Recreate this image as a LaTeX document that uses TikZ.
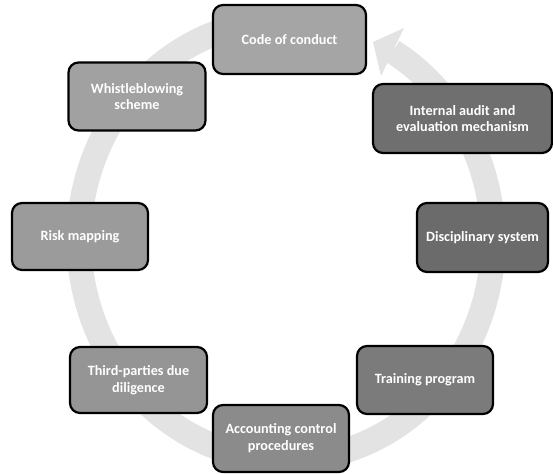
\documentclass[tikz,border=0pt]{standalone}
\usepackage{fontspec}
\setmainfont{Carlito}
\definecolor{ringgray}{HTML}{E3E3E3}
\definecolor{shadeA}{HTML}{A5A5A5}
\definecolor{shadeB}{HTML}{6F6F6F}
\definecolor{shadeC}{HTML}{6B6B6B}
\definecolor{shadeD}{HTML}{7B7B7B}
\definecolor{shadeE}{HTML}{8B8B8B}
\definecolor{shadeF}{HTML}{959595}
\definecolor{shadeG}{HTML}{9B9B9B}
\definecolor{shadeH}{HTML}{A1A1A1}
\begin{document}
\begin{tikzpicture}[x=1pt,y=1pt,
  stage/.style={draw=black, line width=2.2pt, rounded corners=10pt,
    text=white, font=\fontsize{14.2}{16.8}\selectfont\bfseries,
    align=center, inner sep=0pt, minimum height=68pt, minimum width=137pt},
]
\useasboundingbox (0,0) rectangle (553,473);

% circular arrow behind the stages
\coordinate (hub) at (286,233);
\draw[ringgray, line width=25pt]
  (hub) ++(100:207pt and 220pt)
  arc[start angle=100, end angle=419, x radius=207pt, y radius=220pt];
\coordinate (barbup) at (404,445);
\coordinate (barbdown) at (381,397);
\coordinate (tip) at (373,431);
\fill[ringgray] (barbup) -- (tip) -- (barbdown) -- cycle;

% stages of the cycle
\node[stage, fill=shadeA, minimum width=153pt, minimum height=69pt] (code) at (289.5,433.5) {Code of conduct};
\node[stage, fill=shadeB, minimum width=179pt, minimum height=69pt] (audit) at (462.5,354.5) {Internal audit and\\evaluation mechanism};
\node[stage, fill=shadeC, minimum width=131pt, minimum height=69pt] (discipline) at (482.5,235.5) {Disciplinary system};
\node[stage, fill=shadeD, minimum width=136pt] (training) at (425,93) {Training program};
\node[stage, fill=shadeE, minimum width=136pt, minimum height=67pt] (accounting) at (281,34.5) {Accounting control\\procedures};
\node[stage, fill=shadeF, minimum height=66pt] (thirdparty) at (138.5,93) {Third-parties due\\diligence};
\node[stage, fill=shadeG, minimum width=136pt, minimum height=67pt] (risk) at (80,236.5) {Risk mapping};
\node[stage, fill=shadeH] (whistle) at (137,376.5) {Whistleblowing\\scheme};
\end{tikzpicture}
\end{document}
